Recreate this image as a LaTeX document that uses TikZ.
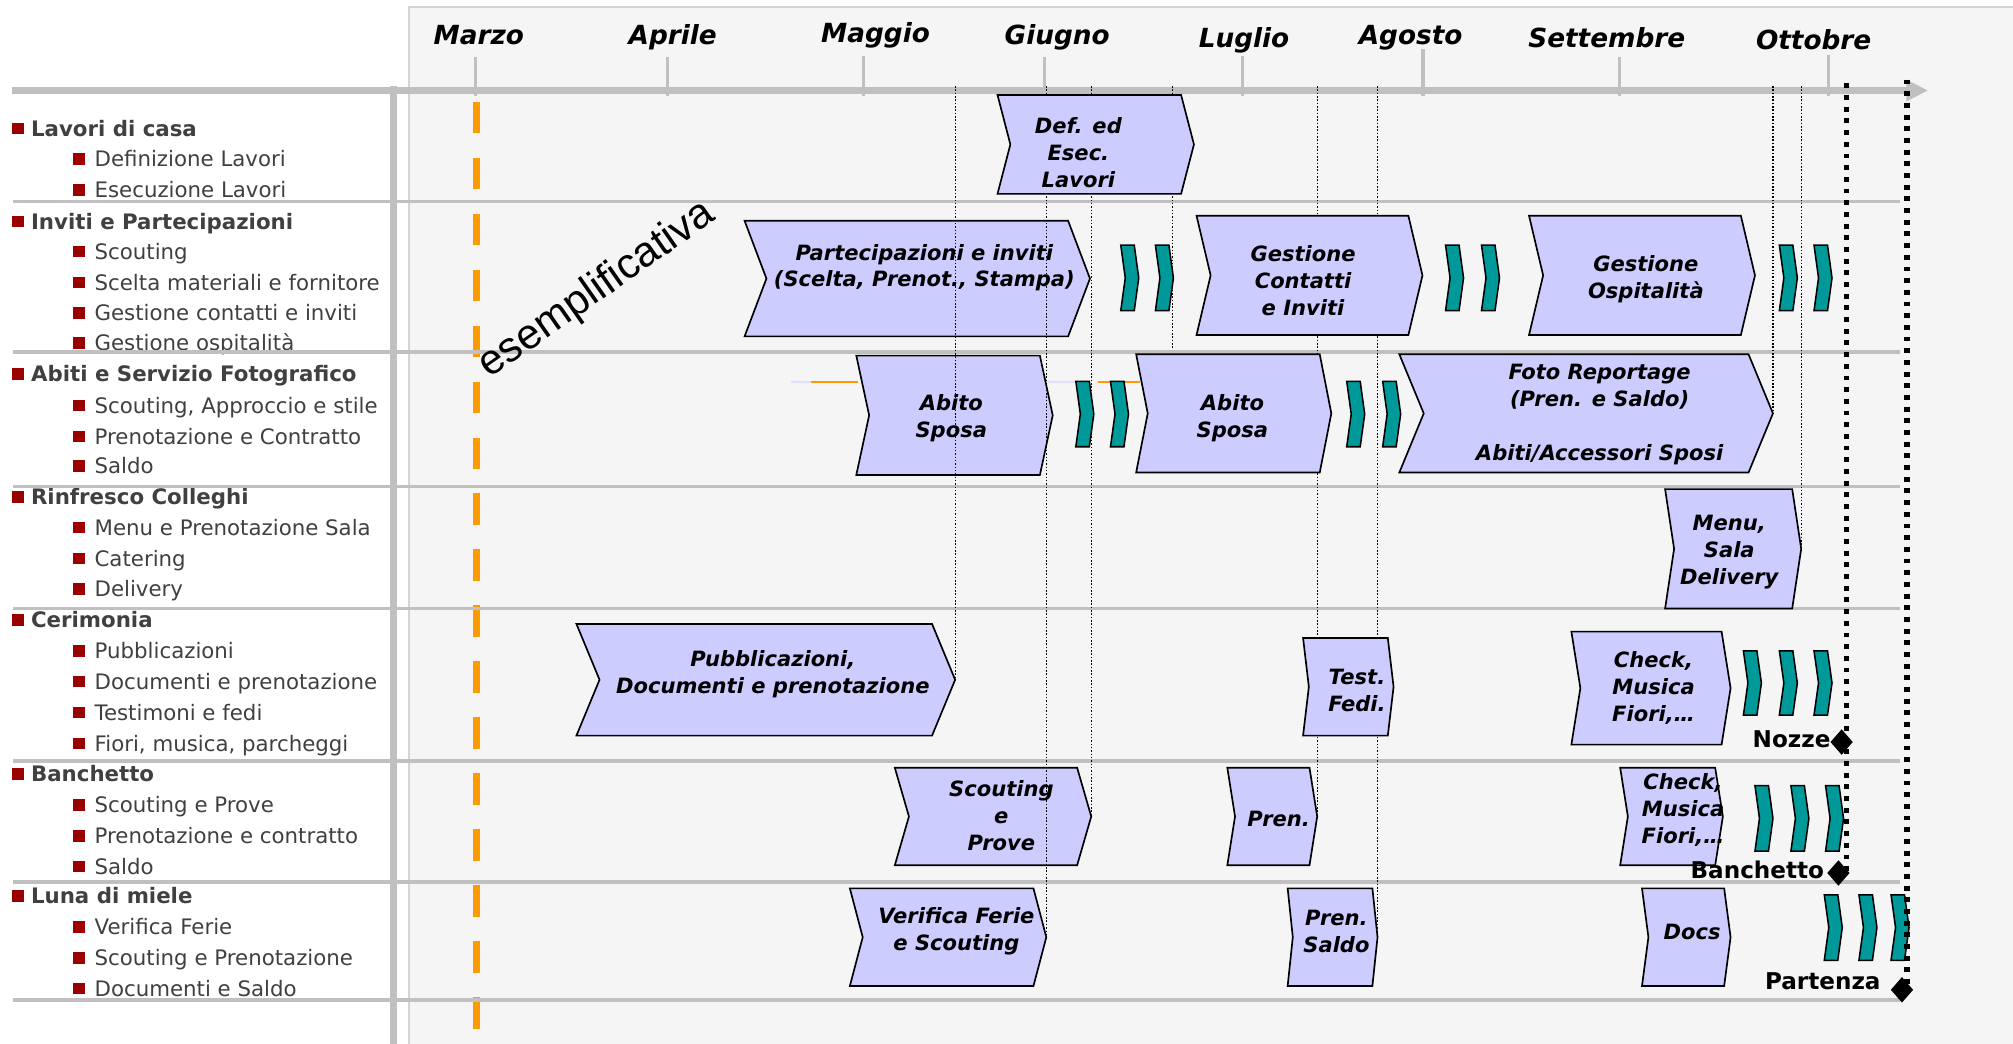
\documentclass[tikz,border=0pt]{standalone}
\usepackage{fontspec}
\setmainfont{DejaVu Sans}
\newfontfamily\arialfont{Liberation Sans}
\usetikzlibrary{shapes.geometric}
\definecolor{panelgray}{HTML}{F5F5F5}
\definecolor{panelborder}{HTML}{D4D4D4}
\definecolor{axisgray}{HTML}{C0C0C0}
\definecolor{lav}{HTML}{CCCCFF}
\definecolor{tealfill}{HTML}{009999}
\definecolor{orangeline}{HTML}{FF9900}
\definecolor{bulletred}{HTML}{990000}
\definecolor{labgray}{HTML}{404040}
\tikzset{
 chevbox/.style={fill=lav, draw=black, line width=1.3pt, line join=miter},
 tealchev/.style={fill=tealfill, draw=black, line width=1.2pt},
 boxtext/.style={font=\fontsize{16.4}{21}\selectfont\bfseries\itshape, align=center, inner sep=0pt, text=black},
 month/.style={font=\fontsize{20.5}{24}\selectfont\bfseries\itshape, inner sep=0pt, anchor=base},
 hdr/.style={font=\fontsize{16.6}{20}\selectfont\bfseries, text=labgray, anchor=base west, inner sep=0pt},
 sublab/.style={font=\fontsize{16.6}{20}\selectfont, text=labgray, anchor=base west, inner sep=0pt},
 sep/.style={draw=axisgray, line width=3pt},
 tickline/.style={draw=axisgray, line width=2.4pt},
 thindot/.style={draw=black, line width=0.9pt, dash pattern=on 1.2pt off 1.4pt},
 thickdot/.style={draw=black, line width=4.2pt, dash pattern=on 3.8pt off 5.3pt},
 milestone/.style={font=\fontsize{18}{20}\selectfont\bfseries, anchor=base east, inner sep=0pt},
 diam/.style={diamond, fill=black, minimum width=17.5pt, minimum height=20pt, inner sep=0pt},
}
\newcommand{\grouplabel}[3]{%
  \fill[bulletred] (9.5,{#2-10.5}) rectangle (18.5,{#2-1.5});
  \node[hdr] (#1) at (24,#2) {#3};}
\newcommand{\itemlabel}[3]{%
  \fill[bulletred] (57,{#2-10.5}) rectangle (66,{#2-1.5});
  \node[sublab] (#1) at (73.5,#2) {#3};}
\newcommand{\chev}[6]{%
  \draw[chevbox] (#2,#4) -- (#3,#4) -- ({#3+#6},{(#4+#5)/2}) -- (#3,#5) -- (#2,#5) -- ({#2+#6},{(#4+#5)/2}) -- cycle;
  \coordinate (#1-tip) at ({#3+#6},{(#4+#5)/2});}
\newcommand{\tealchevron}[4]{%
  \draw[tealchev] (#2,#3) -- ({#2+10.5},#3) -- ({#2+14},{(#3+#4)/2}) -- ({#2+10.5},#4) -- (#2,#4) -- ({#2+3.5},{(#3+#4)/2}) -- cycle;
  \coordinate (#1) at ({#2+7},{(#3+#4)/2});}
\begin{document}
\begin{tikzpicture}[x=1pt,y=-1pt]
\useasboundingbox (0,0) rectangle (1568,813);
\fill[white] (0,0) rectangle (1568,813);
% panel
\fill[panelgray] (318,5) rectangle (1568,813);
\draw[panelborder, line width=1pt] (318.5,813) -- (318.5,5.5) -- (1568,5.5);

% month labels and ticks
\foreach \nm/\tx/\bx/\lx/\ly/\tt in {
  marzo/370.7/373/Marzo/35/44.7,
  aprile/519.9/524/Aprile/35/44.7,
  maggio/672.8/682/Maggio/33.2/43.6,
  giugno/813.6/823.5/Giugno/35/44.7,
  luglio/967.7/969/Luglio/37/43.6,
  agosto/1108.4/1098.8/Agosto/34.5/38.4,
  settembre/1261.4/1251.6/Settembre/37.1/44.7,
  ottobre/1424.3/1412.7/Ottobre/38.2/42.8}{
  \draw[tickline] (\tx,\tt) -- (\tx,75);
  \node[month] (m-\nm) at (\bx,\ly) {\lx};
}

% main axis arrow
\draw[axisgray, line width=6pt] (9.5,70.5) -- (1486,70.5);
\fill[axisgray] (1485,62) -- (1501.5,70.5) -- (1485,79) -- cycle;
\coordinate (axisY) at (0,67);
% left vertical bar
\draw[axisgray, line width=5.5pt] (306.5,67) -- (306.5,813);

% orange dashed line
\draw[orangeline, line width=5.9pt, dash pattern=on 24.4pt off 19.2pt] (371,79.2) -- (371,801.2);

% left labels
\grouplabel{g1}{106}{Lavori di casa}
\itemlabel{i11}{130}{Definizione Lavori}
\itemlabel{i12}{154}{Esecuzione Lavori}
\grouplabel{g2}{178.5}{Inviti e Partecipazioni}
\itemlabel{i21}{202}{Scouting}
\itemlabel{i22}{226}{Scelta materiali e fornitore}
\itemlabel{i23}{250}{Gestione contatti e inviti}
\itemlabel{i24}{273}{Gestione ospitalità}
\grouplabel{g3}{297.5}{Abiti e Servizio Fotografico}
\itemlabel{i31}{322}{Scouting, Approccio e stile}
\itemlabel{i32}{346}{Prenotazione e Contratto}
\itemlabel{i33}{369}{Saldo}
\grouplabel{g4}{393}{Rinfresco Colleghi}
\itemlabel{i41}{417}{Menu e Prenotazione Sala}
\itemlabel{i42}{441}{Catering}
\itemlabel{i43}{465}{Delivery}
\grouplabel{g5}{489}{Cerimonia}
\itemlabel{i51}{513}{Pubblicazioni}
\itemlabel{i52}{537}{Documenti e prenotazione}
\itemlabel{i53}{561}{Testimoni e fedi}
\itemlabel{i54}{585}{Fiori, musica, parcheggi}
\grouplabel{g6}{609}{Banchetto}
\itemlabel{i61}{633}{Scouting e Prove}
\itemlabel{i62}{657}{Prenotazione e contratto}
\itemlabel{i63}{681}{Saldo}
\grouplabel{g7}{704}{Luna di miele}
\itemlabel{i71}{728}{Verifica Ferie}
\itemlabel{i72}{752}{Scouting e Prenotazione}
\itemlabel{i73}{776}{Documenti e Saldo}

% row separators
\foreach \yy in {157,274,379,474,593,687,779}{
  \draw[sep] (10,\yy) -- (1480,\yy);
}

% faint short lines in Abiti row
\draw[lav!60, line width=1pt] (616,297.5) -- (632,297.5);
\draw[orangeline, line width=1pt] (632,297.5) -- (668,297.5);
\draw[lav!60, line width=1pt] (816,297.5) -- (838,297.5);
\draw[orangeline, line width=1pt] (855,297.5) -- (888,297.5);

% boxes under the dotted lines
\chev{part}{580}{832}{172}{262}{17}
\chev{abito1}{667}{810}{277}{370}{10}
\chev{scout}{697}{839}{598}{674}{11}
\chev{verif}{662}{805}{692}{768}{10}
\chev{pubb}{449}{726}{486}{573}{18}
\chev{foto}{1090}{1362}{276}{368}{19}
\chev{menu}{1297}{1396}{381}{474}{7}
\chev{pren}{956}{1020}{598}{674}{6}
\chev{prensaldo}{1003}{1069}{692}{768}{4}
\chev{ospit}{1191}{1356}{168}{261}{11}
\chev{check1}{1224}{1341}{492}{580}{7}
\chev{check2}{1262}{1336}{598}{674}{6}
\chev{docs}{1279}{1343}{692}{768}{5}

% thin dotted lines
\coordinate (l4end) at (913.5,272);
\draw[thindot] (pubb-tip |- axisY) -- (pubb-tip);
\draw[thindot] (verif-tip |- axisY) -- (verif-tip);
\draw[thindot] (scout-tip |- axisY) -- (scout-tip);
\draw[thindot] (l4end |- axisY) -- (l4end);
\draw[thindot] (pren-tip |- axisY) -- (pren-tip);
\draw[thindot] (prensaldo-tip |- axisY) -- (prensaldo-tip);
\draw[thindot] (foto-tip |- axisY) -- (foto-tip);
\draw[thindot] (menu-tip |- axisY) -- (menu-tip);

% boxes over the dotted lines
\chev{def}{777}{920}{74}{151}{10}
\chev{gcont}{932}{1097}{168}{261}{11}
\chev{abito2}{885}{1028}{276}{368}{9}
\chev{test}{1015}{1081}{497}{573}{4.5}

% teal chevrons
\tealchevron{t1}{873}{191}{242}
\tealchevron{t2}{900}{191}{242}
\tealchevron{t3}{1126}{191}{242}
\tealchevron{t4}{1154}{191}{242}
\tealchevron{t5}{1386}{191}{242}
\tealchevron{t6}{1413}{191}{242}
\tealchevron{t7}{838}{297}{348}
\tealchevron{t8}{865}{297}{348}
\tealchevron{t9}{1049}{297}{348}
\tealchevron{t10}{1077}{297}{348}
\tealchevron{t11}{1358}{507}{557}
\tealchevron{t12}{1386}{507}{557}
\tealchevron{t13}{1413}{507}{557}
\tealchevron{t14}{1367}{612}{663}
\tealchevron{t15}{1395}{612}{663}
\tealchevron{t16}{1422}{612}{663}
\tealchevron{t17}{1421}{697}{748}
\tealchevron{t18}{1448}{697}{748}
\tealchevron{t19}{1473}{697}{748}

% box texts
\node[boxtext] (tdef) at (840,119) {Def. ed\\Esec.\\Lavori};
\node[boxtext] (tpart) at (720,208.5) {Partecipazioni e inviti\\(Scelta, Prenot., Stampa)};
\node[boxtext] (tgcont) at (1015,218.5) {Gestione\\Contatti\\e Inviti};
\node[boxtext] (tospit) at (1282,217.5) {Gestione\\Ospitalità};
\node[boxtext] (tabito1) at (741,325.5) {Abito\\Sposa};
\node[boxtext] (tabito2) at (960,325.5) {Abito\\Sposa};
\node[boxtext] (tfoto) at (1246,323) {Foto Reportage\\(Pren. e Saldo)\\[21pt]Abiti/Accessori Sposi};
\node[boxtext] (tmenu) at (1347,430) {Menu,\\Sala\\Delivery};
\node[boxtext] (tpubb) at (602,525.5) {Pubblicazioni,\\Documenti e prenotazione};
\node[boxtext] (ttest) at (1057,537.5) {Test.\\Fedi.};
\node[boxtext] (tcheck1) at (1288,536) {Check,\\Musica\\Fiori,\ldots};
\node[boxtext] (tscout) at (780,635) {Scouting\\e\\Prove};
\node[boxtext] (tpren) at (996,638) {Pren.};
\node[boxtext] (tcheck2) at (1311,631) {Check,\\Musica\\Fiori,\ldots};
\node[boxtext] (tverif) at (745,725.5) {Verifica Ferie\\e Scouting};
\node[boxtext] (tprensaldo) at (1041,725.5) {Pren.\\Saldo};
\node[boxtext] (tdocs) at (1318,726) {Docs};

% watermark
\node[font=\fontsize{33}{36}\selectfont\arialfont, rotate=35, inner sep=0pt] (esem) at (465,226) {esemplificativa};

% milestones
\node[diam] (dnozze) at (1434.5,578) {};
\node[diam] (dbanch) at (1432,680) {};
\node[diam] (dpart) at (1481.5,771) {};
\node[milestone] (lnozze) at (1426,582) {Nozze};
\node[milestone] (lbanch) at (1421,684.5) {Banchetto};
\node[milestone] (lpart) at (1465,770.5) {Partenza};

% thick dotted lines
\coordinate (dl1top) at (1438.5,65);
\coordinate (dl2top) at (1485.5,62);
\draw[thickdot] (dl1top) -- (dl1top |- dbanch);
\draw[thickdot] (dl2top) -- (dl2top |- dpart);
\end{tikzpicture}
\end{document}
